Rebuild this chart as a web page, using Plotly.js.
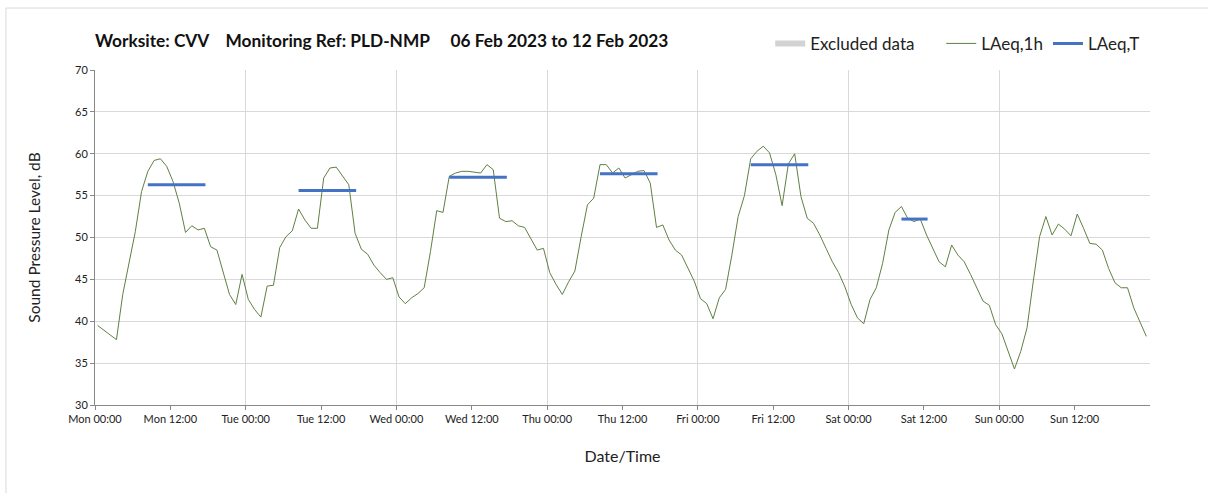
<!DOCTYPE html>
<html>
<head>
<meta charset="utf-8">
<script src="https://cdn.plot.ly/plotly-3.0.1.min.js"></script>
<style>
  html, body { margin: 0; padding: 0; background: #fff; }
  #chart { width: 1208px; height: 493px; }
</style>
</head>
<body>
<div id="chart"></div>
<script>
// Hourly LAeq,1h values, one array per day (hour 0..23), null = no reading
const dayNames = ["Mon", "Tue", "Wed", "Thu", "Fri", "Sat", "Sun"];
const dayDates = ["2023-02-06", "2023-02-07", "2023-02-08", "2023-02-09", "2023-02-10", "2023-02-11", "2023-02-12"];
const weekEnd = "2023-02-13 00:00";

const monValues = [39.5, null, null, 37.8, 43.2, 47.1, 50.7, 55.5, 57.9, 59.2, 59.4, 58.5, 56.7, 54.1, 50.6, 51.4, 50.9, 51.1, 48.9, 48.5, 46.0, 43.2, 42.0, 45.6];
const tueValues = [42.6, 41.4, 40.5, 44.2, 44.3, 48.8, 50.1, 50.8, 53.4, 52.1, 51.1, 51.1, 57.1, 58.3, 58.4, 57.3, 56.3, 50.5, 48.6, 48.0, 46.7, 45.8, 45.0, 45.2];
const wedValues = [42.9, 42.1, 42.8, 43.3, 44.0, 48.3, 53.2, 53.0, 57.3, 57.7, 57.9, 57.9, 57.8, 57.7, 58.7, 58.1, 52.3, 51.9, 52.0, 51.4, 51.2, 49.9, 48.5, 48.7];
const thuValues = [45.8, 44.4, 43.2, 44.7, 46.0, 50.1, 53.9, 54.7, 58.7, 58.7, 57.7, 58.3, 57.1, 57.5, 57.9, 58.0, 56.5, 51.2, 51.5, 49.7, 48.5, 47.9, 46.3, 44.8];
const friValues = [42.7, 42.1, 40.3, 42.8, 43.8, 47.9, 52.5, 55.0, 59.4, 60.3, 60.9, 60.1, 57.5, 53.8, 58.8, 60.0, 54.9, 52.3, 51.7, 50.3, 48.7, 47.1, 45.8, 44.1];
const satValues = [42.0, 40.4, 39.7, 42.6, 44.0, 46.9, 50.9, 53.0, 53.7, 52.3, 51.9, 52.2, 50.3, 48.8, 47.1, 46.5, 49.1, 47.9, 47.1, 45.6, 44.0, 42.4, 41.9, 39.6];
const sunValues = [38.5, 36.4, 34.3, 36.4, 39.2, 44.8, 50.1, 52.5, 50.3, 51.6, 51.0, 50.2, 52.8, 51.1, 49.3, 49.2, 48.5, 46.3, 44.6, 44.0, 44.0, 41.6, 39.8, 38.2];
const weekValues = [monValues, tueValues, wedValues, thuValues, friValues, satValues, sunValues];

// LAeq,T for each assessment period
const periodStart = ["2023-02-06 08:25", "2023-02-07 08:25", "2023-02-08 08:25", "2023-02-09 08:25", "2023-02-10 08:25", "2023-02-11 08:25"];
const periodEnd   = ["2023-02-06 17:35", "2023-02-07 17:35", "2023-02-08 17:35", "2023-02-09 17:35", "2023-02-10 17:35", "2023-02-11 12:35"];
const periodLevel = [56.3, 55.6, 57.2, 57.6, 58.7, 52.2];

// no excluded periods in this week (zero-height entry keeps the legend item)
const excludedX = ["2023-02-06 00:00", "2023-02-06 00:00"];
const excludedY = [0, 0];

const yTicks = [30, 35, 40, 45, 50, 55, 60, 65, 70];

// build hourly timestamps (readings are plotted at hh:25)
const pad = n => String(n).padStart(2, "0");
let hourX = [];
let hourY = [];
weekValues.forEach((vals, d) => {
    vals.forEach((v, h) => {
        hourX.push(dayDates[d] + " " + pad(h) + ":25");
        hourY.push(v);
    });
});

let periodX = [];
let periodY = [];
periodStart.forEach((s, i) => {
    periodX.push(s, periodEnd[i], null);
    periodY.push(periodLevel[i], periodLevel[i], null);
});

let tickVals = [];
let tickText = [];
let dayStarts = [];
dayDates.forEach((d, i) => {
    tickVals.push(d + " 00:00", d + " 12:00");
    tickText.push(dayNames[i] + " 00:00", dayNames[i] + " 12:00");
    dayStarts.push(d + " 00:00");
});
dayStarts.push(weekEnd);

const font = "Lato, 'Open Sans', sans-serif";
const sp = "&nbsp;&nbsp;&nbsp;&nbsp;";

let excluded = {
    x: excludedX, y: excludedY,
    mode: "none",
    fill: "toself",
    fillcolor: "#d3d3d3",
    name: "Excluded data&nbsp;&nbsp;&nbsp;&nbsp;&nbsp;"
};

let hourly = {
    x: hourX, y: hourY,
    mode: "lines",
    name: "LAeq,1h",
    connectgaps: true,
    line: { color: "#5f8043", width: 1 }
};

let periods = {
    x: periodX, y: periodY,
    mode: "lines",
    name: "LAeq,T",
    line: { color: "#4472c4", width: 3 }
};

let layout = {
    width: 1208,
    height: 493,
    margin: { l: 95, r: 58, t: 70, b: 88 },
    paper_bgcolor: "#fff",
    plot_bgcolor: "#fff",
    font: { family: font, color: "#222", size: 11 },
    title: {
        text: "<b>Worksite: CVV" + sp + "Monitoring Ref: PLD-NMP" + sp + "&nbsp;06 Feb 2023 to 12 Feb 2023</b>",
        font: { family: font, size: 17.3, color: "#111" },
        x: 95 / 1208, xanchor: "left",
        y: 1 - 41 / 493, yanchor: "middle"
    },
    showlegend: true,
    legend: {
        orientation: "h",
        x: 0.64, xanchor: "left",
        y: 1.078, yanchor: "middle",
        font: { family: font, size: 17, color: "#222" },
        itemwidth: 30,
        traceorder: "normal"
    },
    xaxis: {
        type: "date",
        range: [dayStarts[0], weekEnd],
        tickmode: "array",
        tickvals: tickVals,
        ticktext: tickText,
        tickangle: 0,
        showgrid: false,
        ticks: "outside",
        ticklen: 4,
        tickcolor: "#888",
        showline: true,
        linecolor: "#888",
        linewidth: 1,
        zeroline: false,
        tickfont: { family: font, size: 11, color: "#222" },
        minor: {
            tickvals: dayStarts,
            showgrid: true,
            gridcolor: "#d9d9d9",
            gridwidth: 1,
            ticks: ""
        },
        title: { text: "Date/Time", font: { family: font, size: 16, color: "#222" }, standoff: 26 }
    },
    yaxis: {
        range: [30, 70],
        tickmode: "array",
        tickvals: yTicks,
        showgrid: true,
        gridcolor: "#d9d9d9",
        gridwidth: 1,
        ticks: "outside",
        ticklen: 4,
        tickcolor: "#888",
        showline: true,
        linecolor: "#888",
        zeroline: false,
        tickfont: { family: font, size: 11, color: "#222" },
        title: { text: "Sound Pressure Level, dB", font: { family: font, size: 15.5, color: "#222" }, standoff: 30 }
    },
    shapes: [
        {
            type: "rect", xref: "paper", yref: "paper",
            x0: -0.0844, x1: 1.07, y0: -0.3, y1: 1.185,
            line: { color: "#d9d9d9", width: 1 },
            fillcolor: "rgba(0,0,0,0)",
            layer: "below"
        }
    ]
};

Plotly.newPlot("chart", [excluded, hourly, periods], layout, { displayModeBar: false, staticPlot: true });
</script>
</body>
</html>
